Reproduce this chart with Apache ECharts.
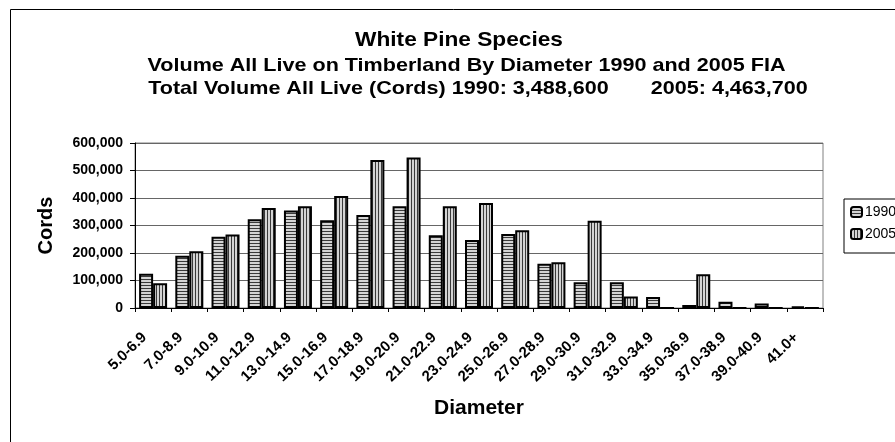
<!DOCTYPE html>
<html>
<head>
<meta charset="utf-8">
<script src="https://cdn.jsdelivr.net/npm/echarts@6/dist/echarts.min.js"></script>
<style>
html,body{margin:0;padding:0;background:#fff;}
#chart{width:895px;height:442px;}
</style>
</head>
<body>
<div id="chart"></div>
<script>
const categories = ['5.0-6.9','7.0-8.9','9.0-10.9','11.0-12.9','13.0-14.9','15.0-16.9','17.0-18.9','19.0-20.9','21.0-22.9','23.0-24.9','25.0-26.9','27.0-28.9','29.0-30.9','31.0-32.9','33.0-34.9','35.0-36.9','37.0-38.9','39.0-40.9','41.0+'];
const values1990 = [125000,190000,259000,323000,355000,319000,338000,370000,265000,247000,269000,161000,94000,94000,40000,11000,23000,16000,6000];
const values2005 = [90000,206000,267000,364000,370000,407000,538000,547000,370000,382000,283000,166000,317000,42000,0,123000,0,0,0];
const yTicks = [0,100000,200000,300000,400000,500000,600000];
const titleLines = ['White Pine Species','Volume All Live on Timberland By Diameter 1990 and 2005 FIA','Total Volume All Live (Cords) 1990: 3,488,600       2005: 4,463,700'];

function makePattern(horizontal){
  const c = document.createElement('canvas');
  c.width = 3; c.height = 3;
  const ctx = c.getContext('2d');
  ctx.fillStyle = '#d4d4d4';
  ctx.fillRect(0,0,3,3);
  ctx.fillStyle = '#3a3a3a';
  if (horizontal) ctx.fillRect(0,0,3,1); else ctx.fillRect(0,0,1,3);
  return c;
}
const pat1990 = {image: makePattern(true), repeat: 'repeat'};
const pat2005 = {image: makePattern(false), repeat: 'repeat'};

const chart = echarts.init(document.getElementById('chart'), null, {renderer:'canvas'});
const FONT = '"Liberation Sans", Arial, sans-serif';
chart.setOption({
  animation: false,
  backgroundColor: '#fff',
  textStyle: {fontFamily: FONT},
  graphic: [
    {type:'rect', shape:{x:10.5,y:9.5,width:960,height:500}, style:{fill:'none', stroke:'#000', lineWidth:1}, silent:true},
    {type:'text', x:459, y:40, scaleX:1.08, style:{x:0, y:0, text:titleLines[0], font:'bold 21px '+FONT, fill:'#000', textAlign:'center', textVerticalAlign:'middle'}},
    {type:'text', x:466.5, y:65.5, scaleX:1.135, style:{x:0, y:0, text:titleLines[1], font:'bold 19px '+FONT, fill:'#000', textAlign:'center', textVerticalAlign:'middle'}},
    {type:'text', x:478, y:89, scaleX:1.135, style:{x:0, y:0, text:titleLines[2], font:'bold 19px '+FONT, fill:'#000', textAlign:'center', textVerticalAlign:'middle'}}
  ],
  legend: {
    orient: 'vertical',
    left: 844, top: 199,
    padding: [6, 40, 12, 6],
    itemGap: 8,
    itemWidth: 11, itemHeight: 10,
    borderColor: '#000', borderWidth: 1,
    textStyle: {fontSize: 14, color:'#000', fontFamily: FONT, padding:[0,0,0,-2]},
    data: ['1990','2005']
  },
  grid: {left:135, right:72, top:143, bottom:134, show:true, borderColor:'#808080', borderWidth:1},
  xAxis: {
    type:'category', data: categories,
    axisLine:{lineStyle:{color:'#000', width:1}},
    axisTick:{show:true, length:4, lineStyle:{color:'#000'}},
    axisLabel:{rotate:44, interval:0, fontSize:15, fontWeight:'bold', color:'#000', margin:19, padding:[0,12,0,0], fontFamily:FONT},
    name:'Diameter', nameLocation:'middle', nameGap:90,
    nameTextStyle:{fontSize:21, fontWeight:'bold', color:'#000', fontFamily:FONT}
  },
  yAxis: {
    type:'value', min:yTicks[0], max:yTicks[yTicks.length-1], interval:100000,
    axisLine:{show:true, lineStyle:{color:'#000', width:1}},
    axisTick:{show:true, length:5, lineStyle:{color:'#000'}},
    axisLabel:{fontSize:14, fontWeight:'bold', color:'#000', margin:12, fontFamily:FONT,
      formatter: v => v.toLocaleString('en-US')},
    splitLine:{lineStyle:{color:'#666', width:1}},
    name:'Cords', nameLocation:'middle', nameGap:79, nameRotate:90,
    nameTextStyle:{fontSize:20, fontWeight:'bold', color:'#000', fontFamily:FONT}
  },
  series: [
    {name:'1990', type:'bar', data: values1990, barWidth:14, barGap:'0%',
      itemStyle:{color: pat1990, borderColor:'#000', borderWidth:2}},
    {name:'2005', type:'bar', data: values2005, barWidth:14, barGap:'0%',
      itemStyle:{color: pat2005, borderColor:'#000', borderWidth:2}}
  ]
});
</script>
</body>
</html>
